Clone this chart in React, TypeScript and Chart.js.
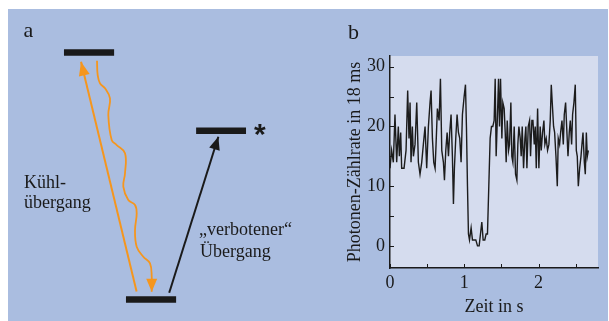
import React, { useEffect, useRef } from 'react';
import { Chart, registerables } from 'chart.js';
Chart.register(...registerables);

// ---------- panel b: photon count rate ----------
const timeS = [
  0.000, 0.022, 0.045, 0.067, 0.090, 0.112, 0.126, 0.144, 0.157, 0.180,
  0.189, 0.216, 0.238, 0.256, 0.270, 0.283, 0.301, 0.315, 0.337, 0.360,
  0.382, 0.404, 0.427, 0.449, 0.472, 0.494, 0.517, 0.539, 0.553, 0.571,
  0.589, 0.607, 0.620, 0.638, 0.661, 0.679, 0.697, 0.719, 0.733, 0.751,
  0.769, 0.787, 0.804, 0.822, 0.840, 0.854, 0.867, 0.885, 0.903, 0.921,
  0.939, 0.957, 0.975, 0.998, 1.016, 1.029, 1.043, 1.056, 1.070, 1.092,
  1.110, 1.137, 1.155, 1.178, 1.200, 1.218, 1.236, 1.254, 1.276, 1.294,
  1.312, 1.330, 1.348, 1.366, 1.384, 1.402, 1.416, 1.429, 1.447, 1.461,
  1.474, 1.488, 1.506, 1.519, 1.537, 1.551, 1.564, 1.578, 1.596, 1.609,
  1.627, 1.640, 1.654, 1.672, 1.690, 1.708, 1.721, 1.735, 1.753, 1.766,
  1.780, 1.798, 1.816, 1.829, 1.843, 1.861, 1.879, 1.892, 1.910, 1.924,
  1.942, 1.955, 1.969, 1.987, 2.004, 2.022, 2.036, 2.054, 2.072, 2.085,
  2.103, 2.121, 2.139, 2.157, 2.171, 2.184, 2.202, 2.216, 2.234, 2.252,
  2.265, 2.283, 2.297, 2.315, 2.333, 2.346, 2.364, 2.378, 2.396, 2.413,
  2.427, 2.445, 2.458, 2.476, 2.494, 2.508, 2.521, 2.535, 2.553, 2.571,
  2.584, 2.598, 2.616, 2.629, 2.643, 2.656, 2.670,
];
const photonCounts = [
  13, 16, 14, 22, 14, 20, 15, 19, 13, 13,
  13, 16, 26, 18, 24, 14, 20, 15, 17, 24,
  14, 12, 14, 17, 20, 13, 20, 24, 26, 18,
  14, 13, 17, 23, 21, 28, 16, 14, 11, 16,
  19, 15, 19, 22, 15, 7, 13, 18, 22, 19,
  18, 14, 22, 25, 27, 20, 10, 2, 1, 3,
  1, 1, 1, 0, 0, 2, 4, 1, 1, 2,
  2, 10, 18, 20, 20, 21, 28, 15, 22, 28,
  20, 28, 18, 24, 23, 19, 14, 21, 16, 17,
  24, 15, 14, 20, 12, 11, 17, 20, 18, 15,
  20, 13, 18, 20, 13, 20, 21, 15, 21, 21,
  17, 20, 13, 23, 13, 20, 16, 19, 21, 17,
  18, 16, 17, 21, 27, 24, 20, 19, 15, 10,
  18, 17, 19, 21, 17, 22, 24, 20, 15, 19,
  21, 17, 22, 24, 27, 16, 15, 10, 13, 15,
  17, 19, 14, 12, 19, 15, 16,
];
const yMajorTicks = [0, 10, 20, 30];
const xMajorTicks = [0, 1, 2];

// ---------- panel a: level scheme (diagram units: energy 0..100) ----------
const levelXStart = [25.9, 79.4, 51.0];
const levelXEnd = [46.2, 99.6, 71.3];
const levelEnergy = [100, 68.3, 0];
const coolArrowX = [55.3, 32.8];
const coolArrowE = [3.2, 96.3];
const forbiddenArrowX = [68.5, 88.4];
const forbiddenArrowE = [2.75, 65.9];
const emissionX = [39.27, 39.55, 40.49, 42.51, 44.53, 43.85, 45.22, 47.25, 50.61, 50.61,
  49.92, 51.94, 54.66, 55.34, 54.66, 55.34, 58.02, 60.73, 61.42, 61.42];
const emissionE = [96.68, 90.89, 87.53, 85.51, 81.46, 74.70, 64.57, 62.55, 59.19, 51.09,
  45.67, 40.28, 38.26, 34.90, 28.14, 21.38, 17.33, 14.66, 9.23, 3.16];

const BLUE = '#aabde0';
const PLOT = '#d5dcee';
const ORANGE = '#f5961e';
const INK = '#1a1a1a';
const SERIF = '"Liberation Serif", "Times New Roman", serif';

const arrowHeadPlugin = {
  id: 'arrowHeads',
  afterDatasetsDraw(chart: any) {
    const ctx = chart.ctx;
    chart.data.datasets.forEach((ds: any, i: number) => {
      if (!ds.arrowHead) return;
      const pts = chart.getDatasetMeta(i).data;
      const tip = pts[pts.length - 1];
      const prev = pts[pts.length - 2];
      const ang = Math.atan2(tip.y - prev.y, tip.x - prev.x);
      const L = ds.arrowHead.length;
      const W = ds.arrowHead.width;
      ctx.save();
      ctx.fillStyle = ds.borderColor;
      ctx.translate(tip.x, tip.y);
      ctx.rotate(ang);
      ctx.beginPath();
      ctx.moveTo(0, 0);
      ctx.lineTo(-L, W / 2);
      ctx.lineTo(-L, -W / 2);
      ctx.closePath();
      ctx.fill();
      ctx.restore();
    });
  },
};

const plotBgPlugin = {
  id: 'plotBg',
  beforeDraw(chart: any) {
    const { ctx, chartArea: a } = chart;
    ctx.save();
    ctx.fillStyle = PLOT;
    ctx.fillRect(a.left, a.top, a.right - a.left, a.bottom - a.top);
    ctx.restore();
  },
};

const inwardTicksPlugin = {
  id: 'inwardTicks',
  afterDraw(chart: any) {
    const { ctx, chartArea: a, scales } = chart;
    ctx.save();
    ctx.strokeStyle = INK;
    ctx.lineWidth = 1;
    scales.y.ticks.forEach((t: any) => {
      const y = Math.round(scales.y.getPixelForValue(t.value)) + 0.5;
      ctx.beginPath();
      ctx.moveTo(a.left, y);
      ctx.lineTo(a.left + 4, y);
      ctx.stroke();
    });
    scales.x.ticks.forEach((t: any) => {
      const x = Math.round(scales.x.getPixelForValue(t.value)) + 0.5;
      ctx.beginPath();
      ctx.moveTo(x, a.bottom);
      ctx.lineTo(x, a.bottom - 4);
      ctx.stroke();
    });
    ctx.restore();
  },
};

const isMajor = (v: number, majors: number[]) =>
  Math.abs(v - Math.round(v)) < 1e-6 && majors.includes(Math.round(v));

function SchemeChart() {
  const ref = useRef<HTMLCanvasElement>(null);
  useEffect(() => {
    const levels = levelEnergy.map((e, i) => ({
      data: [{ x: levelXStart[i], y: e }, { x: levelXEnd[i], y: e }],
      borderColor: INK,
      borderWidth: 6.5,
      borderCapStyle: 'butt',
      showLine: true,
      pointRadius: 0,
    }));
    const chart = new Chart(ref.current!, {
      type: 'scatter',
      data: {
        datasets: [
          ...levels,
          {
            data: coolArrowX.map((x, i) => ({ x, y: coolArrowE[i] })),
            borderColor: ORANGE, borderWidth: 2, showLine: true, pointRadius: 0,
            arrowHead: { length: 14, width: 11 },
          },
          {
            data: emissionX.map((x, i) => ({ x, y: emissionE[i] })),
            borderColor: ORANGE, borderWidth: 1.8, showLine: true, pointRadius: 0,
            tension: 0.4, arrowHead: { length: 13, width: 11 },
          },
          {
            data: forbiddenArrowX.map((x, i) => ({ x, y: forbiddenArrowE[i] })),
            borderColor: INK, borderWidth: 2, showLine: true, pointRadius: 0,
            arrowHead: { length: 13, width: 11 },
          },
        ] as any,
      },
      options: {
        responsive: false,
        animation: false,
        events: [],
        layout: { padding: 0 },
        plugins: { legend: { display: false }, tooltip: { enabled: false } },
        scales: {
          x: { type: 'linear', display: false, min: 0, max: 133.6 },
          y: { type: 'linear', display: false, min: -8.7, max: 121.26 },
        },
      },
      plugins: [arrowHeadPlugin],
    });
    return () => chart.destroy();
  }, []);
  return (
    <canvas ref={ref} width={330} height={321}
      style={{ position: 'absolute', left: 0, top: 0, width: 330, height: 321, display: 'block' }} />
  );
}

function RateChart() {
  const ref = useRef<HTMLCanvasElement>(null);
  useEffect(() => {
    const chart = new Chart(ref.current!, {
      type: 'scatter',
      data: {
        datasets: [
          {
            data: photonCounts.map((v, i) => ({ x: timeS[i], y: v })),
            borderColor: '#1c1c1c',
            borderWidth: 1.4,
            showLine: true,
            pointRadius: 0,
            tension: 0,
          },
        ],
      },
      options: {
        responsive: false,
        animation: false,
        events: [],
        layout: { padding: { top: 56, right: 11, left: 0, bottom: 0 } },
        plugins: { legend: { display: false }, tooltip: { enabled: false } },
        scales: {
          x: {
            type: 'linear',
            min: 0,
            max: 2.8,
            afterFit: (s: any) => { s.height = 53; },
            grid: { display: false, drawTicks: false },
            border: { display: true, color: INK, width: 1.5 },
            ticks: {
              stepSize: 0.5,
              includeBounds: false,
              autoSkip: false,
              maxRotation: 0,
              padding: 4,
              color: INK,
              font: { family: SERIF, size: 18 },
              callback: (v: any) => (isMajor(Number(v), xMajorTicks) ? String(Math.round(Number(v))) : ''),
            },
            title: {
              display: true,
              text: 'Zeit in s',
              color: INK,
              font: { family: SERIF, size: 18 },
              padding: { top: 0, bottom: 3 },
            },
          },
          y: {
            type: 'linear',
            min: -3.7,
            max: 31.8,
            afterFit: (s: any) => { s.width = 60; },
            grid: { display: false, drawTicks: false },
            border: { display: true, color: INK, width: 1.5 },
            ticks: {
              stepSize: 5,
              includeBounds: false,
              autoSkip: false,
              padding: 5,
              color: INK,
              font: { family: SERIF, size: 18 },
              callback: (v: any) => (isMajor(Number(v), yMajorTicks) ? String(Math.round(Number(v))) : ''),
            },
            title: {
              display: true,
              text: 'Photonen-Zählrate in 18 ms',
              color: INK,
              font: { family: SERIF, size: 18 },
              padding: { top: 14, bottom: 0 },
            },
          },
        },
      },
      plugins: [plotBgPlugin, inwardTicksPlugin],
    });
    return () => chart.destroy();
  }, []);
  return (
    <canvas ref={ref} width={279} height={321}
      style={{ position: 'absolute', left: 330, top: 0, width: 279, height: 321, display: 'block' }} />
  );
}

function Label(props: { left: number; baseline: number; size: number; text: string; sans?: boolean; bold?: boolean }) {
  const { left, baseline, size, text, sans, bold } = props;
  const ratio = sans ? 0.8465 : 0.8375;
  return (
    <div style={{
      position: 'absolute', left, top: baseline - ratio * size,
      fontFamily: sans ? '"Liberation Sans", Arial, sans-serif' : SERIF,
      fontSize: size, lineHeight: `${size}px`, fontWeight: bold ? 700 : 400,
      color: INK, whiteSpace: 'nowrap',
    }}>{text}</div>
  );
}

export default function App() {
  return (
    <div style={{ position: 'fixed', left: 0, top: 0, width: 609, height: 321, background: '#fff', overflow: 'hidden' }}>
      <div style={{ position: 'absolute', left: 8, top: 9, width: 600, height: 312, background: BLUE }} />
      <SchemeChart />
      <RateChart />
      <Label left={23.5} baseline={37} size={22} text="a" />
      <Label left={348} baseline={39} size={22} text="b" />
      <Label left={24} baseline={188} size={18} text="Kühl-" />
      <Label left={24} baseline={208} size={18} text="übergang" />
      <Label left={199} baseline={235} size={18} text="„verbotener“" />
      <Label left={200} baseline={257} size={18} text="Übergang" />
      <Label left={254} baseline={144.6} size={30} text="*" sans bold />
    </div>
  );
}
